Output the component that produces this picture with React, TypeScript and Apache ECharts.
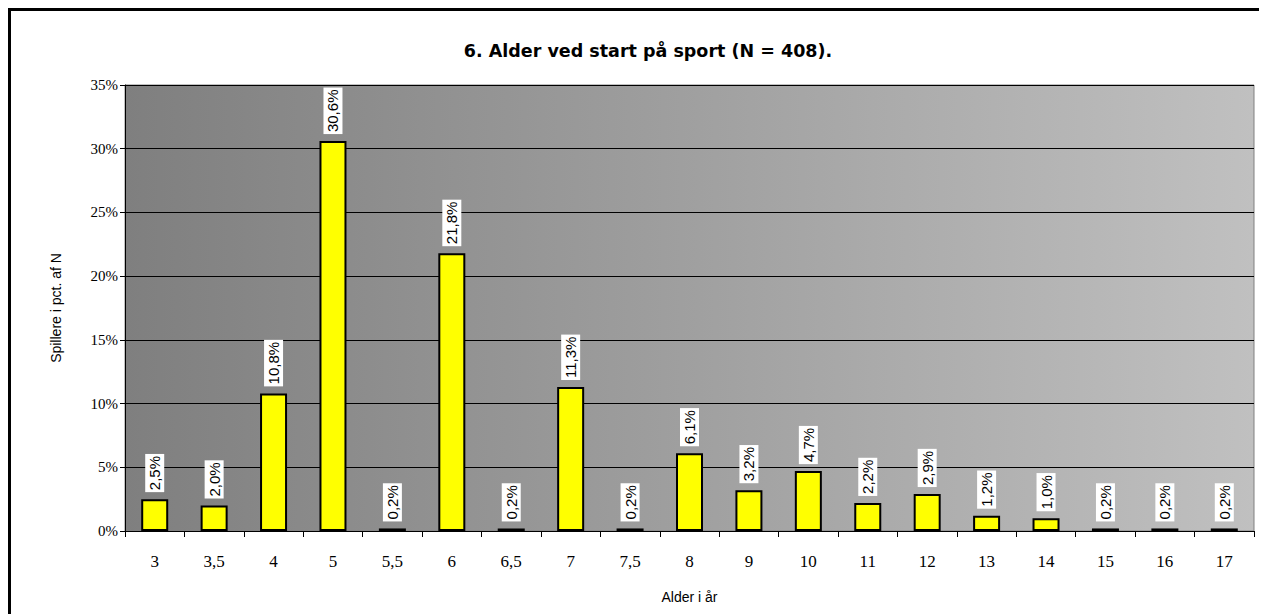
import React, { useEffect, useRef } from "react";
import * as echarts from "echarts";

const categories = ["3", "3,5", "4", "5", "5,5", "6", "6,5", "7", "7,5", "8", "9", "10", "11", "12", "13", "14", "15", "16", "17"];
const values = [2.5, 2.0, 10.8, 30.6, 0.2, 21.8, 0.2, 11.3, 0.2, 6.1, 3.2, 4.7, 2.2, 2.9, 1.2, 1.0, 0.2, 0.2, 0.2];
const yTicks = [0, 5, 10, 15, 20, 25, 30, 35];

export default function App() {
  const ref = useRef<HTMLDivElement>(null);
  useEffect(() => {
    if (!ref.current) return;
    document.documentElement.style.overflow = "hidden";
    document.body.style.overflow = "hidden";
    const chart = echarts.init(ref.current, null, { renderer: "svg" });
    chart.setOption({
      animation: false,
      backgroundColor: "#ffffff",
      title: {
        text: "6. Alder ved start på sport (N = 408).",
        left: 635,
        top: 29,
        textAlign: "center",
        textStyle: { fontFamily: "DejaVu Sans", fontWeight: "bold", fontSize: 17.5, color: "#000" },
      },
      graphic: [
        {
          type: "line",
          shape: { x1: 0, y1: 1.5, x2: 1259, y2: 1.5 },
          style: { stroke: "#000", lineWidth: 3 },
          silent: true,
        },
        {
          type: "line",
          shape: { x1: 1.5, y1: 0, x2: 1.5, y2: 606 },
          style: { stroke: "#000", lineWidth: 3 },
          silent: true,
        },
      ],
      grid: {
        left: 117,
        top: 77,
        right: 13,
        bottom: 83,
        show: true,
        borderColor: "#808080",
        borderWidth: 1,
        backgroundColor: new echarts.graphic.LinearGradient(0, 0, 1, 0, [
          { offset: 0, color: "#7f7f7f" },
          { offset: 1, color: "#c0c0c0" },
        ]),
      },
      xAxis: {
        type: "category",
        data: categories,
        name: "Alder i år",
        nameLocation: "middle",
        nameGap: 59,
        nameTextStyle: { fontFamily: "Liberation Sans", fontSize: 14, color: "#000" },
        axisLine: { lineStyle: { color: "#000", width: 1 } },
        axisTick: { show: true, length: 6, lineStyle: { color: "#000" } },
        axisLabel: { fontFamily: "Liberation Serif", fontSize: 17, color: "#000", margin: 22 },
      },
      yAxis: {
        type: "value",
        min: yTicks[0],
        max: yTicks[yTicks.length - 1],
        interval: 5,
        name: "Spillere i pct. af N",
        nameLocation: "middle",
        nameGap: 62,
        nameTextStyle: { fontFamily: "Liberation Sans", fontSize: 14, color: "#000" },
        axisLine: { show: true, lineStyle: { color: "#000", width: 1 } },
        axisTick: { show: true, length: 5, lineStyle: { color: "#000" } },
        axisLabel: {
          fontFamily: "Liberation Serif",
          fontSize: 15,
          color: "#000",
          margin: 7,
          formatter: (v: number) => v + "%",
        },
        splitLine: { show: true, lineStyle: { color: "#000", width: 1 } },
      },
      series: [
        {
          type: "bar",
          data: values,
          barWidth: 27,
          itemStyle: { color: "#ffff00", borderColor: "#000", borderWidth: 2 },
          label: {
            show: true,
            position: "top",
            rotate: 90,
            align: "left",
            verticalAlign: "middle",
            distance: 7,
            fontFamily: "Liberation Sans",
            fontSize: 15,
            color: "#000",
            backgroundColor: "#fff",
            padding: [3, 2, 1, 2],
            formatter: (p: any) => p.value.toFixed(1).replace(".", ",") + "%",
          },
        },
      ],
    });
    return () => chart.dispose();
  }, []);
  return <div ref={ref} style={{ width: 1259, height: 606 }} />;
}
